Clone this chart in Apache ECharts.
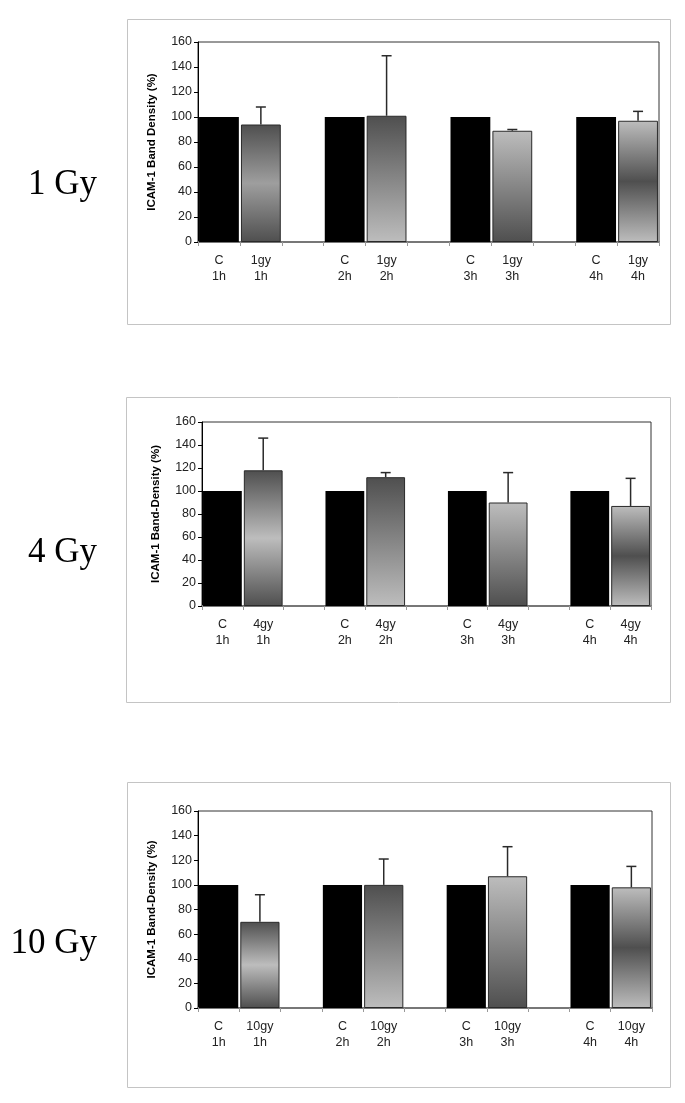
<!DOCTYPE html>
<html><head><meta charset="utf-8">
<script src="https://cdn.jsdelivr.net/npm/echarts@6/dist/echarts.min.js"></script>
<style>html,body{margin:0;padding:0;background:#fff}#c{width:685px;height:1103px}</style>
</head><body><div id="c"></div>
<script>
// ---- data ----
const times = ['1h', '2h', '3h', '4h'];
const controlLabel = 'C';
const doseLabels = ['1gy', '4gy', '10gy'];
const panelTitles = ['1 Gy', '4 Gy', '10 Gy'];
const yAxisNames = ['ICAM-1 Band Density (%)', 'ICAM-1 Band-Density (%)', 'ICAM-1 Band-Density (%)'];
const yMin = 0, yMax = 160, yStep = 20;

const control1 = [100, 100, 100, 100];
const treated1 = [94, 101, 89, 97];
const sd1 = [14, 48, 1, 7.5];

const control4 = [100, 100, 100, 100];
const treated4 = [118, 112, 90, 87];
const sd4 = [28, 4, 26, 24];

const control10 = [100, 100, 100, 100];
const treated10 = [70, 100, 107, 98];
const sd10 = [22, 21, 24, 17];

const panelsData = [
  { control: control1, treated: treated1, sd: sd1 },
  { control: control4, treated: treated4, sd: sd4 },
  { control: control10, treated: treated10, sd: sd10 }
];

// ---- layout / style (not data) ----
const grids = [
  { left: 198, top: 42, width: 461, height: 200 },
  { left: 202, top: 422, width: 449, height: 184 },
  { left: 198, top: 811, width: 454, height: 197 }
];
const boxes = [
  { x: 127.5, y: 19.5, w: 543, h: 305 },
  { x: 126.5, y: 397.5, w: 544, h: 305 },
  { x: 127.5, y: 782.5, w: 543, h: 305 }
];
const titleY = [185, 553, 944];
const DARK = '#4f4f4f', LIGHT = '#bdbdbd';
const midLight = ['#9e9e9e', '#bdbdbd', '#bdbdbd'];
function grad(stops) {
  return { type: 'linear', x: 0, y: 0, x2: 0, y2: 1,
    colorStops: stops.map((c, i) => ({ offset: i / (stops.length - 1), color: c })) };
}
function fillFor(p, t) {
  if (t === 0) return grad([DARK, midLight[p], DARK]);
  if (t === 1) return grad([DARK, LIGHT]);
  if (t === 2) return grad([LIGHT, DARK]);
  return grad([LIGHT, DARK, LIGHT]);
}

const option = { animation: false, grid: [], xAxis: [], yAxis: [], series: [], graphic: [] };

panelsData.forEach((pd, p) => {
  const cats = [];
  const barData = [];
  const errData = [];
  times.forEach((t, i) => {
    cats.push(controlLabel + '\n' + t);
    barData.push({ value: pd.control[i], itemStyle: { color: '#000', borderColor: '#000', borderWidth: 0 } });
    cats.push(doseLabels[p] + '\n' + t);
    barData.push({ value: pd.treated[i], itemStyle: { color: fillFor(p, i), borderColor: '#2a2a2a', borderWidth: 1 } });
    errData.push([cats.length - 1, pd.treated[i], pd.treated[i] + pd.sd[i]]);
    if (i < times.length - 1) { cats.push(''); barData.push('-'); }
  });
  const g = grids[p];
  option.grid.push({ left: g.left, top: g.top, width: g.width, height: g.height,
    show: true, borderColor: '#333', borderWidth: 1, backgroundColor: 'transparent' });
  option.xAxis.push({ type: 'category', gridIndex: p, data: cats, boundaryGap: true,
    axisLine: { show: true, lineStyle: { color: '#777', width: 2 } },
    axisTick: { show: true, length: 4, lineStyle: { color: '#999' } },
    axisLabel: { interval: 0, fontSize: 12.5, lineHeight: 16, margin: 11, color: '#222', fontFamily: 'Liberation Sans, Arial' },
    splitLine: { show: false } });
  option.yAxis.push({ type: 'value', gridIndex: p, min: yMin, max: yMax, interval: yStep,
    name: yAxisNames[p], nameLocation: 'middle', nameGap: 40,
    nameTextStyle: { fontWeight: 'bold', fontSize: 11.5, color: '#000', fontFamily: 'Liberation Sans, Arial' },
    axisLine: { show: true, lineStyle: { color: '#000', width: 1 } },
    axisTick: { show: true, length: 4, lineStyle: { color: '#000' } },
    axisLabel: { fontSize: 12.5, margin: 6, color: '#222', fontFamily: 'Liberation Sans, Arial' },
    splitLine: { show: false } });
  option.series.push({ type: 'bar', xAxisIndex: p, yAxisIndex: p, data: barData,
    barCategoryGap: '5%', z: 2 });
  option.series.push({ type: 'custom', xAxisIndex: p, yAxisIndex: p, data: errData, z: 3,
    encode: { x: 0, y: [1, 2] },
    renderItem: function (params, api) {
      const a = api.coord([api.value(0), api.value(1)]);
      const b = api.coord([api.value(0), api.value(2)]);
      const st = { stroke: '#2a2a2a', lineWidth: 1.5 };
      return { type: 'group', children: [
        { type: 'line', shape: { x1: a[0], y1: a[1], x2: b[0], y2: b[1] }, style: st },
        { type: 'line', shape: { x1: b[0] - 5, y1: b[1], x2: b[0] + 5, y2: b[1] }, style: st }
      ] };
    } });
  const bx = boxes[p];
  option.graphic.push({ type: 'rect', shape: { x: bx.x, y: bx.y, width: bx.w, height: bx.h },
    style: { fill: 'none', stroke: '#c4c4c4', lineWidth: 1 }, silent: true, z: -1 });
  option.graphic.push({ type: 'text', x: 97, y: titleY[p],
    style: { text: panelTitles[p], fontFamily: 'Liberation Serif, Times New Roman, serif', fontSize: 35,
      fill: '#000', align: 'right', verticalAlign: 'middle' }, silent: true });
});

const chart = echarts.init(document.getElementById('c'), null, { renderer: 'canvas' });
chart.setOption(option);
</script>
</body></html>
